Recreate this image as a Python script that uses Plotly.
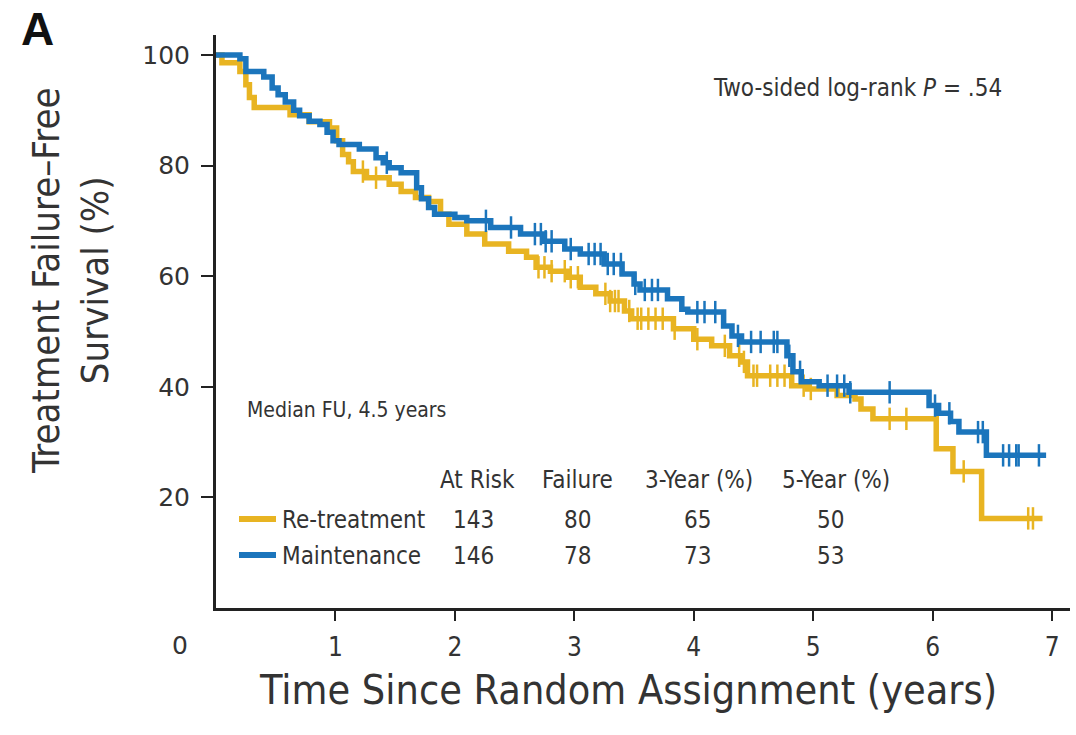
import numpy as np
import plotly.graph_objects as go

# ---------------- data ----------------
groups = ["Re-treatment", "Maintenance"]
colors = ["#E8B422", "#1B75BC"]

retreat_t = [0.00, 0.05, 0.20, 0.25, 0.28, 0.32, 0.62, 0.78, 0.95, 1.01, 1.06, 1.11, 1.15, 1.26,
             1.45, 1.55, 1.67, 1.78, 1.88, 1.95, 2.10, 2.25, 2.45, 2.60, 2.68, 2.80, 2.95, 3.05,
             3.18, 3.30, 3.42, 3.48, 3.83, 4.00, 4.15, 4.30, 4.40, 4.45, 4.82, 4.95, 5.20, 5.35,
             5.40, 5.50, 6.03, 6.17, 6.41, 6.92]
retreat_s = [100.0, 98.6, 97.0, 94.6, 92.3, 90.5, 89.2, 87.9, 86.8, 84.5, 82.0, 80.7, 78.9, 77.8,
             76.6, 75.3, 74.2, 73.5, 71.2, 69.4, 67.6, 65.8, 64.5, 63.4, 61.6, 60.9, 59.8, 58.0,
             56.8, 55.5, 53.7, 52.3, 50.5, 48.6, 47.4, 45.6, 44.5, 42.0, 40.2, 39.6, 38.4, 37.8,
             36.0, 34.2, 28.8, 24.7, 16.2, 16.2]
retreat_cens = [1.23, 1.34, 2.70, 2.75, 2.81, 2.92, 2.97, 3.03, 3.26, 3.30, 3.34, 3.37, 3.46, 3.53,
                3.56, 3.62, 3.68, 3.74, 3.84, 4.03, 4.26, 4.38, 4.42, 4.50, 4.53, 4.64, 4.70, 4.76,
                4.92, 4.98, 5.64, 5.78, 6.26, 6.80, 6.84]

maint_t = [0.00, 0.20, 0.25, 0.40, 0.47, 0.52, 0.58, 0.65, 0.70, 0.78, 0.87, 0.93, 0.98, 1.03,
           1.20, 1.34, 1.40, 1.45, 1.55, 1.68, 1.72, 1.78, 1.83, 2.00, 2.10, 2.30, 2.55, 2.75,
           2.92, 3.05, 3.25, 3.40, 3.50, 3.55, 3.78, 3.90, 3.95, 4.25, 4.32, 4.40, 4.78, 4.83,
           4.90, 5.05, 5.30, 5.97, 6.05, 6.15, 6.22, 6.45, 6.95]
maint_s = [100.0, 99.3, 97.0, 96.0, 94.0, 92.8, 91.5, 90.0, 89.0, 88.0, 87.4, 86.0, 84.5, 83.8,
           83.0, 81.4, 80.5, 79.6, 78.7, 76.0, 74.0, 72.4, 71.2, 70.6, 70.0, 68.8, 67.6, 66.3,
           64.9, 64.0, 62.2, 60.4, 58.6, 57.5, 55.9, 54.0, 53.5, 51.0, 49.2, 48.1, 45.6, 42.7,
           40.9, 40.2, 39.0, 36.6, 35.2, 33.7, 31.8, 27.6, 27.6]
maint_cens = [1.43, 2.26, 2.47, 2.67, 2.72, 2.76, 2.81, 2.97, 3.12, 3.17, 3.22, 3.28, 3.33, 3.39,
              3.51, 3.59, 3.65, 3.70, 4.03, 4.09, 4.18, 4.37, 4.48, 4.56, 4.67, 4.70, 4.80, 4.89,
              5.12, 5.20, 5.26, 5.31, 5.64, 6.02, 6.14, 6.38, 6.42, 6.59, 6.64, 6.70, 6.72, 6.89]

table_headers = ["At Risk", "Failure", "3-Year (%)", "5-Year (%)"]
at_risk = [143, 146]
failures = [80, 78]
year3 = [65, 73]
year5 = [50, 53]

x_ticks = [1, 2, 3, 4, 5, 6, 7]
y_ticks = [20, 40, 60, 80, 100]

# ---------------- layout helpers (pixel -> paper) ----------------
L, R, T, B = 216, 6, 35, 127
W, H = 1076, 735
PW, PH = W - L - R, H - T - B


def px(x):
    return (x - L) / PW


def py(y):
    return (H - B - y) / PH


COND = "Liberation Sans Narrow, DejaVu Sans Condensed, Arial Narrow, sans-serif"
REG = "DejaVu Sans, Verdana, sans-serif"
TXT = "#333333"


def step_value(ts, ss, t):
    idx = np.searchsorted(np.asarray(ts), t, side="right") - 1
    return np.asarray(ss)[idx]


fig = go.Figure()
series = [(retreat_t, retreat_s, retreat_cens), (maint_t, maint_s, maint_cens)]
for (ts, ss, cs), name, col in zip(series, groups, colors):
    fig.add_trace(go.Scatter(x=ts, y=ss, mode="lines", line=dict(color=col, width=5.5, shape="hv"),
                             name=name, showlegend=False))
    fig.add_trace(go.Scatter(x=cs, y=step_value(ts, ss, cs), mode="markers",
                             marker=dict(symbol="line-ns", size=16,
                                         line=dict(width=2.5, color=col)),
                             showlegend=False, hoverinfo="skip"))

fig.update_xaxes(range=[0, 7.15], tickvals=x_ticks, ticktext=[str(v) for v in x_ticks],
                 showline=True, linecolor="#222222", linewidth=3, ticks="outside",
                 ticklen=10, tickwidth=2, tickcolor="#222222", showgrid=False, zeroline=False,
                 tickfont=dict(family=COND, size=26, color=TXT), ticklabelstandoff=4)
fig.update_yaxes(range=[0, 103.6], tickvals=y_ticks, ticktext=[str(v) for v in y_ticks],
                 showline=True, linecolor="#222222", linewidth=3, ticks="outside",
                 ticklen=12, tickwidth=2, tickcolor="#222222", showgrid=False, zeroline=False,
                 tickfont=dict(family=REG, size=25, color=TXT), ticklabelstandoff=6)

ann = []
# corner zero
ann.append(dict(x=px(180), y=py(645), xref="paper", yref="paper", text="0", showarrow=False,
                font=dict(family=REG, size=25, color=TXT), xanchor="center", yanchor="middle"))
# panel letter
ann.append(dict(x=px(37), y=py(29), xref="paper", yref="paper", text="<b>A</b>", showarrow=False,
                font=dict(family="Liberation Sans, Arial, sans-serif", size=46, color="#111111"),
                xanchor="center", yanchor="middle"))
# axis titles
ann.append(dict(x=px(628), y=py(690), xref="paper", yref="paper",
                text="Time Since Random Assignment (years)", showarrow=False,
                font=dict(family=COND, size=41, color=TXT), xanchor="center", yanchor="middle"))
ann.append(dict(x=px(70), y=py(281), xref="paper", yref="paper",
                text="Treatment Failure\u2013Free<br>Survival (%)", showarrow=False, textangle=-90,
                font=dict(family=COND, size=38, color=TXT), xanchor="center", yanchor="middle"))
# p-value
ann.append(dict(x=px(857), y=py(88), xref="paper", yref="paper",
                text="Two-sided log-rank <i>P</i> = .54", showarrow=False,
                font=dict(family=COND, size=24, color=TXT), xanchor="center", yanchor="middle"))
ann.append(dict(x=px(245), y=py(410), xref="paper", yref="paper",
                text="Median FU, 4.5 years", showarrow=False,
                font=dict(family=COND, size=21, color=TXT), xanchor="left", yanchor="middle"))

col_x = [477, 577, 699, 836]
val_x = [473, 577, 697, 830]
for h, cx in zip(table_headers, col_x):
    ann.append(dict(x=px(cx), y=py(480), xref="paper", yref="paper", text=h, showarrow=False,
                    font=dict(family=COND, size=24, color=TXT), xanchor="center", yanchor="middle"))
row_y = [520, 556]
shapes = []
for i, g in enumerate(groups):
    ann.append(dict(x=px(280), y=py(row_y[i]), xref="paper", yref="paper", text=g, showarrow=False,
                    font=dict(family=COND, size=24, color=TXT), xanchor="left", yanchor="middle"))
    vals = [at_risk[i], failures[i], year3[i], year5[i]]
    for v, cx in zip(vals, val_x):
        ann.append(dict(x=px(cx), y=py(row_y[i]), xref="paper", yref="paper", text=str(v),
                        showarrow=False, font=dict(family=COND, size=24, color=TXT),
                        xanchor="center", yanchor="middle"))
    shapes.append(dict(type="line", xref="paper", yref="paper", x0=px(239), x1=px(276),
                       y0=py(row_y[i] - 1), y1=py(row_y[i] - 1),
                       line=dict(color=colors[i], width=6)))

fig.update_layout(width=W, height=H, margin=dict(l=L, r=R, t=T, b=B),
                  paper_bgcolor="white", plot_bgcolor="white",
                  annotations=ann, shapes=shapes, showlegend=False)

fig.write_html("out.html")
